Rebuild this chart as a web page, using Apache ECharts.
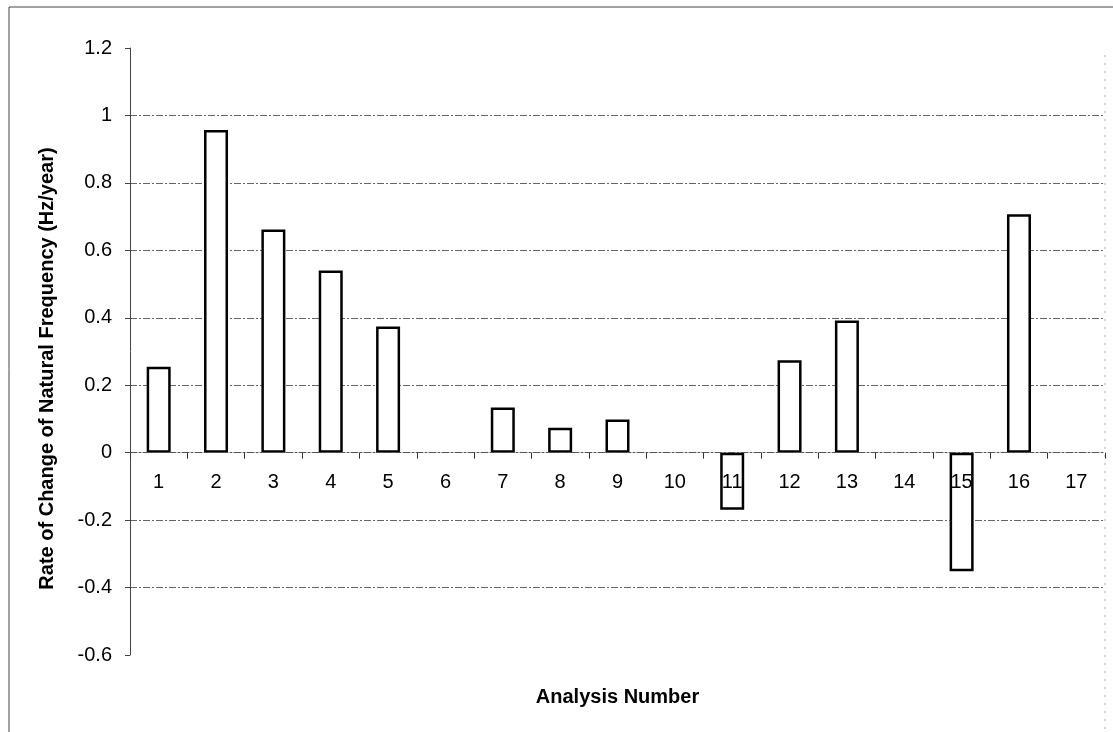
<!DOCTYPE html>
<html>
<head>
<meta charset="utf-8">
<script src="https://cdn.jsdelivr.net/npm/echarts@6/dist/echarts.min.js"></script>
<style>html,body{margin:0;padding:0;background:#fff}#c{width:1113px;height:732px}</style>
</head>
<body>
<div id="c"></div>
<script>
const categories = ['1','2','3','4','5','6','7','8','9','10','11','12','13','14','15','16','17'];
const rateValues = [0.255, 0.957, 0.662, 0.540, 0.374, null, 0.134, 0.074, 0.098, null, -0.169, 0.274, 0.392, null, -0.352, 0.707, null];
const yAxisTitle = 'Rate of Change of Natural Frequency (Hz/year)';
const xAxisTitle = 'Analysis Number';

const chart = echarts.init(document.getElementById('c'));
const font = 'Liberation Sans, Arial, sans-serif';
const gridDash = [7, 2, 2, 2];
const labelStyle = { fontFamily: font, fontSize: 20, color: '#000' };
chart.setOption({
  animation: false,
  backgroundColor: '#fff',
  textStyle: { fontFamily: font, fontSize: 20, color: '#000' },
  grid: { left: 130, right: 8, top: 48, bottom: 77, containLabel: false, outerBoundsMode: 'none' },
  xAxis: [{
    type: 'category',
    data: categories,
    z: 10,
    axisLine: { onZero: true, lineStyle: { color: '#555', width: 1, type: gridDash } },
    axisTick: { show: true, alignWithLabel: false, length: 6, lineStyle: { color: '#333' } },
    axisLabel: { show: false },
    splitLine: { show: false }
  }, {
    type: 'category',
    data: categories,
    position: 'bottom',
    offset: -204,
    z: 10,
    name: xAxisTitle,
    nameLocation: 'middle',
    nameGap: 236,
    nameTextStyle: { fontFamily: font, fontSize: 20, fontWeight: 'bold', color: '#000' },
    axisLine: { show: false, onZero: false },
    axisTick: { show: false },
    axisLabel: Object.assign({ margin: 21, hideOverlap: false, interval: 0 }, labelStyle),
    splitLine: { show: false }
  }],
  yAxis: {
    type: 'value',
    min: -0.6, max: 1.2, interval: 0.2,
    name: yAxisTitle,
    nameLocation: 'middle',
    nameGap: 73,
    nameTextStyle: { fontFamily: font, fontSize: 20, fontWeight: 'bold', color: '#000', padding: [0, 34, 0, 0] },
    axisLine: { show: true, lineStyle: { color: '#444', width: 1 } },
    axisTick: { show: true, length: 5, lineStyle: { color: '#444' } },
    axisLabel: Object.assign({ margin: 18, formatter: v => String(Math.round(v * 10) / 10) }, labelStyle),
    splitLine: { show: true, showMinLine: false, showMaxLine: false,
      lineStyle: { color: '#666', width: 1, type: gridDash } }
  },
  graphic: [
    { type: 'line', shape: { x1: 9, y1: 7, x2: 1113, y2: 7 }, style: { stroke: '#444', lineWidth: 1 } },
    { type: 'line', shape: { x1: 9, y1: 7, x2: 9, y2: 732 }, style: { stroke: '#444', lineWidth: 1 } },
    { type: 'line', shape: { x1: 1105, y1: 55, x2: 1105, y2: 732 }, style: { stroke: '#aaa', lineWidth: 1, lineDash: [2, 6] } }
  ],
  series: [{
    type: 'bar',
    xAxisIndex: 0,
    data: rateValues,
    barWidth: 24,
    itemStyle: { color: '#fff', borderColor: '#000', borderWidth: 2.5 },
    emphasis: { disabled: true }
  }]
});
</script>
</body>
</html>
